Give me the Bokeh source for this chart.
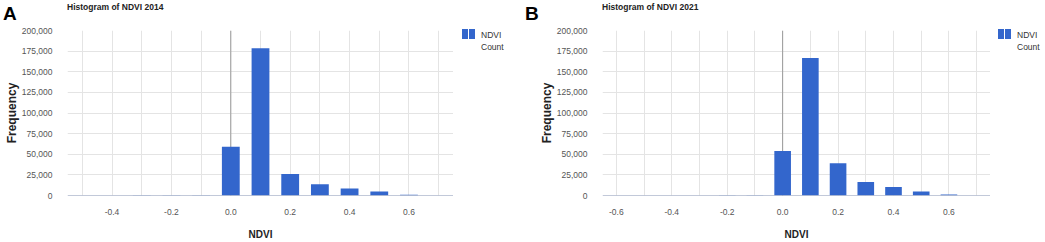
from bokeh.plotting import figure
from bokeh.layouts import row, column
from bokeh.models import (ColumnDataSource, Range1d, FixedTicker, NumeralTickFormatter,
                          PrintfTickFormatter, Span, Div)
from bokeh.embed import file_html
from bokeh.resources import INLINE

# ---- data ----
bins_2014 = [-0.5, -0.4, -0.3, -0.2, -0.1, 0.0, 0.1, 0.2, 0.3, 0.4, 0.5, 0.6, 0.7]
counts_2014 = [100, 150, 200, 250, 400, 59000, 178500, 26200, 13500, 8500, 4800, 1000, 100]

bins_2021 = [-0.6, -0.5, -0.4, -0.3, -0.2, -0.1, 0.0, 0.1, 0.2, 0.3, 0.4, 0.5, 0.6, 0.7]
counts_2021 = [50, 80, 100, 150, 200, 300, 54000, 166800, 39000, 16400, 10200, 4700, 1200, 100]

y_ticks = [0, 25000, 50000, 75000, 100000, 125000, 150000, 175000, 200000]
legend_lines = ["NDVI", "Count"]

FONT = "Liberation Sans"
BLUE = "#3366cc"
GRID = "#e4e4e4"
HEAD = 22          # height of the header strip (panel letter + title)
BODY = 220         # height of the chart body
TOP, BOTTOM = 8, 41


def header(letter, title, width, title_x):
    html = (
        f'<div style="position:relative;width:{width}px;height:{HEAD}px;'
        f"font-family:'{FONT}',Arial,sans-serif;\">"
        f'<span style="position:absolute;left:3px;top:3.5px;font-size:19px;line-height:19px;'
        f'font-weight:bold;color:#000;white-space:nowrap;">{letter}</span>'
        f'<span style="position:absolute;left:{title_x}px;top:3px;font-size:8.5px;'
        f'line-height:9px;font-weight:bold;color:#222;white-space:nowrap;">{title}</span>'
        f'</div>'
    )
    return Div(text=html, width=width, height=HEAD, margin=0)


def legend_box(width, x0):
    html = (
        f'<div style="position:relative;width:{width}px;height:{BODY}px;'
        f"font-family:'{FONT}',Arial,sans-serif;font-size:8.5px;color:#333;\">"
        f'<span style="position:absolute;left:{x0}px;top:7px;width:6px;height:10px;'
        f'background:{BLUE};"></span>'
        f'<span style="position:absolute;left:{x0 + 7}px;top:7px;width:6px;height:10px;'
        f'background:{BLUE};"></span>'
        f'<span style="position:absolute;left:{x0 + 19}px;top:8px;line-height:10px;'
        f'white-space:nowrap;">{legend_lines[0]}</span>'
        f'<span style="position:absolute;left:{x0 + 19}px;top:20px;line-height:10px;'
        f'white-space:nowrap;">{legend_lines[1]}</span>'
        f'</div>'
    )
    return Div(text=html, width=width, height=BODY, margin=0)


def make_panel(letter, title, bins, counts, xr, major, minor, chart_w, leg_w, bl, leg_x):
    p = figure(width=chart_w, height=BODY, output_backend="svg", toolbar_location=None,
               x_range=Range1d(*xr), y_range=Range1d(0, 200000),
               min_border_left=bl, min_border_right=0, min_border_top=TOP,
               min_border_bottom=BOTTOM)
    p.outline_line_color = None

    src = ColumnDataSource(dict(x=bins, y=counts))
    p.vbar(x="x", top="y", width=0.06, source=src, fill_color=BLUE, line_color=None)

    p.xaxis.ticker = FixedTicker(ticks=major, minor_ticks=minor)
    p.xaxis.formatter = PrintfTickFormatter(format="%.1f")
    p.yaxis.ticker = FixedTicker(ticks=y_ticks)
    p.yaxis.formatter = NumeralTickFormatter(format="0,0")

    for ax in (p.xaxis[0], p.yaxis[0]):
        ax.axis_line_color = None
        ax.major_tick_line_color = None
        ax.minor_tick_line_color = None
        ax.major_label_text_font = FONT
        ax.major_label_text_font_size = "8.5px"
        ax.major_label_text_color = "#555555"
        ax.axis_label_text_font = FONT
        ax.axis_label_text_font_style = "bold"
        ax.axis_label_text_color = "#222222"

    p.xaxis.axis_label = "NDVI"
    p.xaxis.axis_label_text_font_size = "10px"
    p.xaxis.major_label_standoff = 7
    p.xaxis.axis_label_standoff = 11
    p.yaxis.axis_label = "Frequency"
    p.yaxis.axis_label_text_font_size = "12px"
    p.yaxis.major_label_standoff = 9
    p.yaxis.axis_label_standoff = 0

    p.xgrid.grid_line_color = GRID
    p.xgrid.minor_grid_line_color = GRID
    p.ygrid.grid_line_color = GRID

    p.add_layout(Span(location=0, dimension="height", line_color="#999999", line_width=1,
                      level="underlay"))
    p.add_layout(Span(location=0, dimension="width", line_color="#8593b3", line_width=1.2))

    head = header(letter, title, chart_w + leg_w, bl)
    leg = legend_box(leg_w, leg_x)
    return column(head, row(p, leg, spacing=0), spacing=0)


pa = make_panel("A", "Histogram of NDVI 2014", bins_2014, counts_2014, (-0.55, 0.75),
                [-0.4, -0.2, 0.0, 0.2, 0.4, 0.6], [-0.5, -0.3, -0.1, 0.1, 0.3, 0.5, 0.7],
                453, 69, 67, 9)
pb = make_panel("B", "Histogram of NDVI 2021", bins_2021, counts_2021, (-0.65, 0.75),
                [-0.6, -0.4, -0.2, 0.0, 0.2, 0.4, 0.6], [-0.5, -0.3, -0.1, 0.1, 0.3, 0.5, 0.7],
                468, 55, 80, 8)

layout = row(pa, pb, spacing=0)
open("out.html", "w").write(file_html(layout, INLINE))
